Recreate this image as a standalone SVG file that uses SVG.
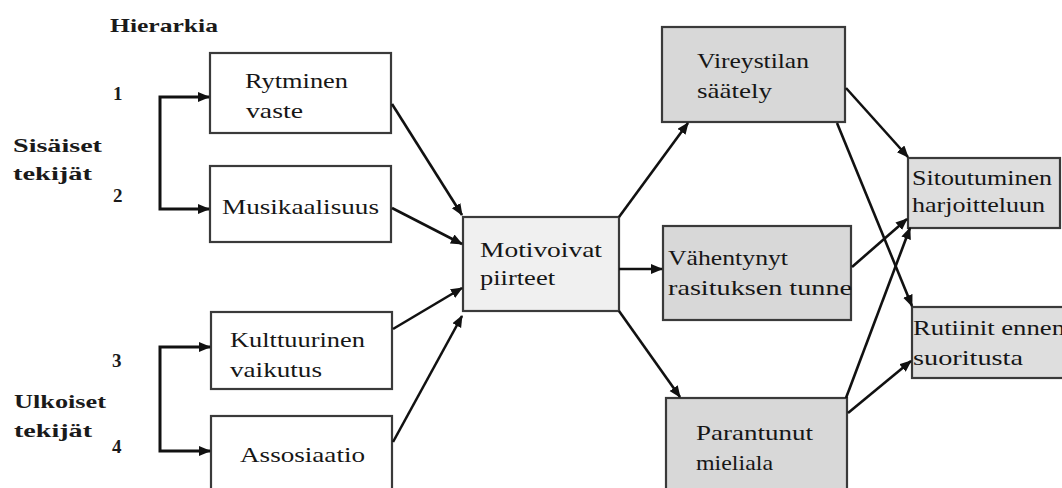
<svg xmlns="http://www.w3.org/2000/svg" width="1062" height="488" viewBox="0 0 1062 488">
<defs>
<marker id="ah" markerUnits="userSpaceOnUse" markerWidth="13" markerHeight="11" refX="11" refY="5" orient="auto">
<path d="M0,0 L12,5 L0,10 z" fill="#111"/>
</marker>
<style>
.bx{stroke:#3a3a3a;stroke-width:2.2}
.w{fill:#fff}
.m{fill:#f0f0f0}
.g{fill:#d8d8d8}
.r{fill:#dedede}
.t{font-family:'Liberation Serif','DejaVu Serif',serif;font-size:21px;fill:#161616}
.b{font-family:'Liberation Serif','DejaVu Serif',serif;font-size:19px;font-weight:bold;fill:#1a1a1a}
.c{fill:none;stroke:#111;stroke-width:2.6;marker-end:url(#ah)}
.k{fill:none;stroke:#111;stroke-width:3;marker-end:url(#ah)}
</style>
</defs>
<rect width="1062" height="488" fill="#fff"/>

<g id="labels">
<text class="b" x="110" y="32" textLength="108" lengthAdjust="spacingAndGlyphs">Hierarkia</text>
<text class="b" x="113" y="100">1</text>
<text class="b" x="113" y="202">2</text>
<text class="b" x="112" y="367">3</text>
<text class="b" x="112" y="453">4</text>
<text class="b" x="13" y="152" textLength="89" lengthAdjust="spacingAndGlyphs">Sisäiset</text>
<text class="b" x="13" y="180" textLength="79" lengthAdjust="spacingAndGlyphs">tekijät</text>
<text class="b" x="14" y="408" textLength="92" lengthAdjust="spacingAndGlyphs">Ulkoiset</text>
<text class="b" x="14" y="437" textLength="78" lengthAdjust="spacingAndGlyphs">tekijät</text>
</g>

<g id="n-rytminen">
<rect class="bx w" x="210" y="53" width="181" height="80"/>
<text class="t" x="245" y="88" textLength="103" lengthAdjust="spacingAndGlyphs">Rytminen</text>
<text class="t" x="246" y="118" textLength="57" lengthAdjust="spacingAndGlyphs">vaste</text>
</g>
<g id="n-musikaalisuus">
<rect class="bx w" x="210" y="166" width="181" height="76"/>
<text class="t" x="222" y="214" textLength="157" lengthAdjust="spacingAndGlyphs">Musikaalisuus</text>
</g>
<g id="n-kulttuurinen">
<rect class="bx w" x="211" y="312" width="181" height="77"/>
<text class="t" x="230" y="347" textLength="135" lengthAdjust="spacingAndGlyphs">Kulttuurinen</text>
<text class="t" x="230" y="377" textLength="92" lengthAdjust="spacingAndGlyphs">vaikutus</text>
</g>
<g id="n-assosiaatio">
<rect class="bx w" x="211" y="416" width="181" height="80"/>
<text class="t" x="240" y="462" textLength="125" lengthAdjust="spacingAndGlyphs">Assosiaatio</text>
</g>
<g id="n-motivoivat">
<rect class="bx m" x="463" y="217" width="156" height="94"/>
<text class="t" x="480" y="257" textLength="122" lengthAdjust="spacingAndGlyphs">Motivoivat</text>
<text class="t" x="480" y="285" textLength="75" lengthAdjust="spacingAndGlyphs">piirteet</text>
</g>
<g id="n-vireystilan">
<rect class="bx g" x="662" y="27" width="183" height="95"/>
<text class="t" x="697" y="68" textLength="112" lengthAdjust="spacingAndGlyphs">Vireystilan</text>
<text class="t" x="697" y="98" textLength="75" lengthAdjust="spacingAndGlyphs">säätely</text>
</g>
<g id="n-vahentynyt">
<rect class="bx g" x="663" y="226" width="188" height="94"/>
<text class="t" x="668" y="265" textLength="120" lengthAdjust="spacingAndGlyphs">Vähentynyt</text>
<text class="t" x="668" y="295" textLength="184" lengthAdjust="spacingAndGlyphs">rasituksen tunne</text>
</g>
<g id="n-parantunut">
<rect class="bx g" x="666" y="398" width="181" height="98"/>
<text class="t" x="696" y="440" textLength="117" lengthAdjust="spacingAndGlyphs">Parantunut</text>
<text class="t" x="696" y="470" textLength="77" lengthAdjust="spacingAndGlyphs">mieliala</text>
</g>
<g id="n-sitoutuminen">
<rect class="bx r" x="908" y="158" width="152" height="70"/>
<text class="t" x="912" y="185" textLength="140" lengthAdjust="spacingAndGlyphs">Sitoutuminen</text>
<text class="t" x="912" y="212" textLength="133" lengthAdjust="spacingAndGlyphs">harjoitteluun</text>
</g>
<g id="n-rutiinit">
<rect class="bx r" x="912" y="307" width="160" height="71"/>
<text class="t" x="913" y="335" textLength="152" lengthAdjust="spacingAndGlyphs">Rutiinit ennen</text>
<text class="t" x="913" y="365" textLength="110" lengthAdjust="spacingAndGlyphs">suoritusta</text>
</g>

<g id="connectors">
<path class="k" d="M160,153 V97 H209"/>
<path class="k" d="M160,153 V209 H209"/>
<path class="k" d="M160,399 V347 H210"/>
<path class="k" d="M160,399 V451 H210"/>
<path class="c" d="M392,104 L462,215"/>
<path class="c" d="M392,208 L462,244"/>
<path class="c" d="M393,329 L462,288"/>
<path class="c" d="M393,442 L462,316"/>
<path class="c" d="M619,217 L688,123"/>
<path class="c" d="M619,269 L662,269"/>
<path class="c" d="M619,311 L680,397"/>
<path class="c" d="M846,88 L908,157"/>
<path class="c" d="M837,123 L912,306"/>
<path class="c" d="M852,267 L907,219"/>
<path class="c" d="M846,398 L910,228"/>
<path class="c" d="M848,413 L911,361"/>
</g>
</svg>
